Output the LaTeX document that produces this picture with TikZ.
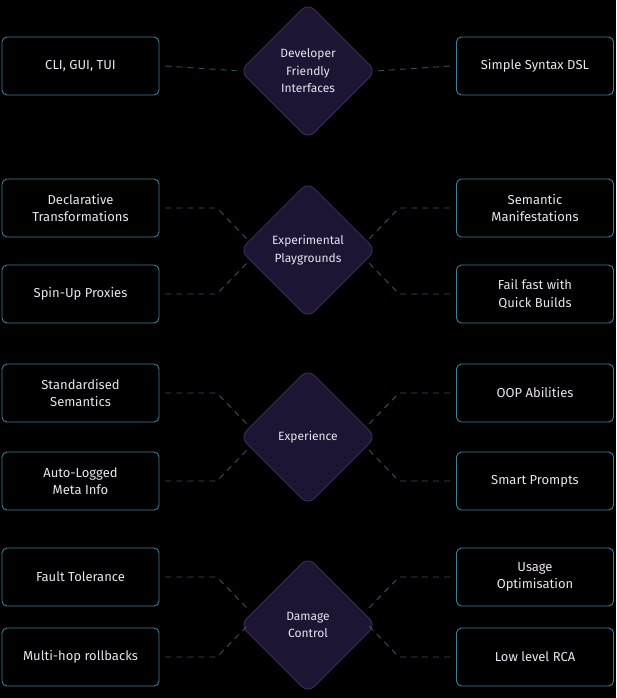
\documentclass[tikz,border=0pt]{standalone}
\usepackage{fontspec}
\setmainfont{Fira Sans}
\usetikzlibrary{shapes.geometric}
\definecolor{bg}{HTML}{000000}
\definecolor{boxline}{HTML}{3E7F9C}
\definecolor{dfill}{HTML}{1E1433}
\definecolor{dline}{HTML}{3A2D55}
\definecolor{conn}{HTML}{2E5563}
\definecolor{txt}{HTML}{E8E4F0}
\begin{document}
\begin{tikzpicture}[x=1pt,y=-1pt,
 box/.style={draw=boxline,line width=0.9pt,rounded corners=5pt,minimum width=157,minimum height=58,align=center,text=txt,font=\fontsize{13}{17.5}\selectfont,inner sep=2pt},
 dia/.style={diamond,draw=dline,fill=dfill,line width=0.9pt,rounded corners=9pt,minimum width=136,minimum height=136,inner sep=0pt,align=center,text=txt,font=\fontsize{12}{17.5}\selectfont},
 con/.style={draw=conn,line width=0.9pt,dash pattern=on 6pt off 5pt}]
\fill[bg] (0,0) rectangle (616,698);
\useasboundingbox (0,0) rectangle (616,698);
\coordinate (xl) at (217,0);
\coordinate (xr) at (399,0);
% diamonds
\node[dia] (d1) at (308,71) {Developer\\Friendly\\Interfaces};
\node[dia] (d2) at (308,250) {Experimental\\Playgrounds};
\node[dia] (d3) at (308,437) {Experience};
\node[dia] (d4) at (308,625) {Damage\\Control};
% boxes
\node[box] (a1) at (80.5,66) {CLI, GUI, TUI};
\node[box] (b1) at (535,66) {Simple Syntax DSL};
\node[box] (a2) at (80.5,208) {Declarative\\Transformations};
\node[box] (a3) at (80.5,294) {Spin-Up Proxies};
\node[box] (b2) at (535,208) {Semantic\\Manifestations};
\node[box] (b3) at (535,294) {Fail fast with\\Quick Builds};
\node[box] (a4) at (80.5,393) {Standardised\\Semantics};
\node[box] (a5) at (80.5,481) {Auto-Logged\\Meta Info};
\node[box] (b4) at (535,393) {OOP Abilities};
\node[box] (b5) at (535,481) {Smart Prompts};
\node[box] (a6) at (80.5,577) {Fault Tolerance};
\node[box] (a7) at (80.5,657) {Multi-hop rollbacks};
\node[box] (b6) at (535,577) {Usage\\Optimisation};
\node[box] (b7) at (535,657) {Low level RCA};
% connectors
\draw[con] ([xshift=6pt]a1.east) -- (d1.west);
\draw[con] ([xshift=-6pt]b1.west) -- (d1.east);
\foreach \L/\R in {a2/b2,a4/b4,a6/b6}{
 \draw[con] ([xshift=6pt]\L.east) -- (\L.east -| xl) -- ++(31,32);
 \draw[con] ([xshift=-6pt]\R.west) -- (\R.west -| xr) -- ++(-31,32);
}
\foreach \L/\R in {a3/b3,a5/b5,a7/b7}{
 \draw[con] ([xshift=6pt]\L.east) -- (\L.east -| xl) -- ++(31,-32);
 \draw[con] ([xshift=-6pt]\R.west) -- (\R.west -| xr) -- ++(-31,-32);
}
\end{tikzpicture}
\end{document}
